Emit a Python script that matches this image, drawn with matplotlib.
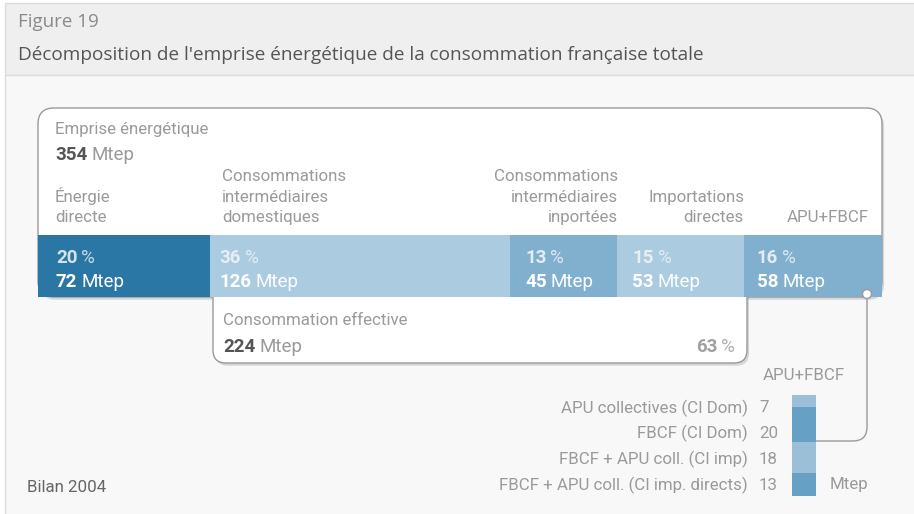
import matplotlib
matplotlib.use("Agg")
import matplotlib.pyplot as plt
import matplotlib.patheffects as pe
from matplotlib.patches import FancyBboxPatch, Rectangle, Circle, PathPatch
from matplotlib.path import Path
import numpy as np

plt.rcParams['font.family'] = ['Roboto', 'DejaVu Sans']

# ---- data ----
categories = ["Énergie\ndirecte", "Consommations\nintermédiaires\ndomestiques",
              "Consommations\nintermédiaires\ninportées", "Importations\ndirectes", "APU+FBCF"]
mtep = [72, 126, 45, 53, 58]
pct = [20, 36, 13, 15, 16]
total_mtep = 354
effective_mtep = 224
effective_pct = 63
apu_labels = ["APU collectives (CI Dom)", "FBCF (CI Dom)", "FBCF + APU coll. (CI imp)",
              "FBCF + APU coll. (CI imp. directs)"]
apu_values = [7, 20, 18, 13]

# ---- style / layout ----
bar_colors = ["#2a77a6", "#abcbe0", "#80b0ce", "#abcbe0", "#80b0ce"]
pct_colors = ["#d3e3ee", "#e6eff6", "#e3edf5", "#e6eff6", "#e3edf5"]
apu_colors = ["#9bbfd7", "#66a0c4", "#9bbfd7", "#66a0c4"]
label_pos = [(55, 'left'), (222, 'left'), (618, 'right'), (744, 'right'), (869, 'right')]
text_pad = [18, 10, 15, 15, 13]
GRAY = "#9a9a9a"
DARK = "#555555"
FS = 12.2

W, H = 914, 514
fig = plt.figure(figsize=(W / 100, H / 100), dpi=100)


def px_axes(x0, y0, x1, y1, z):
    a = fig.add_axes([x0 / W, 1 - y1 / H, (x1 - x0) / W, (y1 - y0) / H], zorder=z)
    a.axis('off')
    return a


def two_part(ax, x, y, first, second, c1, c2, size, ha='left', gap=4, **kw):
    # bold number followed by a regular unit
    if ha == 'left':
        t = ax.text(x, y, first, color=c1, fontsize=size, fontweight='bold', va='baseline', ha='left', **kw)
        ax.annotate(second, xy=(1, 0), xycoords=t, xytext=(gap, 0), textcoords='offset pixels',
                    color=c2, fontsize=size, va='bottom', ha='left')
    else:
        t = ax.text(x, y, second, color=c2, fontsize=size, va='baseline', ha='right', **kw)
        ax.annotate(first, xy=(0, 0), xycoords=t, xytext=(-gap, 0), textcoords='offset pixels',
                    color=c1, fontsize=size, fontweight='bold', va='bottom', ha='right')
    return t


shadow = [pe.SimplePatchShadow(offset=(1.5, -2), shadow_rgbFace='#999999', alpha=0.35), pe.Normal()]

# background and header
bg = px_axes(0, 0, W, H, 0)
bg.set_xlim(0, W)
bg.set_ylim(H, 0)
bg.add_patch(Rectangle((5, 3), 915, 72, fc='#efefef', ec='#dcdcdc', lw=1))
bg.add_patch(Rectangle((5, 75), 915, 445, fc='#f8f8f8', ec='#dcdcdc', lw=1))
bg.text(18, 22, "Figure 19", fontsize=13.5, color="#8a8a8a", va='center', family=['Open Sans', 'DejaVu Sans'])
bg.text(18, 55, "Décomposition de l'emprise énergétique de la consommation française totale",
        fontsize=13.7, color=DARK, va='center', family=['Open Sans', 'DejaVu Sans'])

# main box and "consommation effective" box
bg.add_patch(FancyBboxPatch((38, 108), 844, 189, boxstyle="round,pad=0,rounding_size=16",
                            fc='white', ec='#9a9a9a', lw=1, path_effects=shadow))
bg.add_patch(FancyBboxPatch((213, 262), 534, 101, boxstyle="round,pad=0,rounding_size=13",
                            fc='white', ec='#9a9a9a', lw=1, path_effects=shadow))

# main stacked bar
bx = px_axes(38, 235, 882, 297, 1)
bx.set_xlim(0, sum(mtep))
bx.set_ylim(0, 1)
lefts = np.cumsum([0] + mtep[:-1])
bx.barh(0.5, mtep, left=lefts, height=1, color=bar_colors, edgecolor='none')
for i in range(len(mtep)):
    t = bx.annotate(str(pct[i]), xy=(lefts[i], 1), xycoords=('data', 'axes fraction'),
                    xytext=(text_pad[i], -28), textcoords='offset pixels',
                    color=pct_colors[i], fontsize=13.5, fontweight='bold', va='baseline')
    bx.annotate("%", xy=(1, 0), xycoords=t, xytext=(4, 0), textcoords='offset pixels',
                color=pct_colors[i], fontsize=13.5, va='bottom', alpha=0.9)
    t = bx.annotate(str(mtep[i]), xy=(lefts[i], 1), xycoords=('data', 'axes fraction'),
                    xytext=(text_pad[i], -52), textcoords='offset pixels',
                    color='white', fontsize=13.5, fontweight='bold', va='baseline')
    bx.annotate("Mtep", xy=(1, 0), xycoords=t, xytext=(4, 0), textcoords='offset pixels',
                color='white', fontsize=13.5, va='bottom')

# foreground texts and connector
fg = px_axes(0, 0, W, H, 3)
fg.set_xlim(0, W)
fg.set_ylim(H, 0)
fg.text(55, 134, "Emprise énergétique", fontsize=FS, color=GRAY, va='baseline')
two_part(fg, 55, 160, str(total_mtep), "Mtep", DARK, GRAY, 13.5)
for lab, (x, ha) in zip(categories, label_pos):
    fg.text(x, 225, lab, fontsize=FS, color=GRAY, ha=ha, va='bottom', linespacing=1.45,
            multialignment=ha)

fg.text(223, 325, "Consommation effective", fontsize=FS, color=GRAY, va='baseline')
two_part(fg, 223, 352, str(effective_mtep), "Mtep", DARK, GRAY, 13.5)
two_part(fg, 735, 352, str(effective_pct), "%", "#a0a0a0", "#b0b0b0", 13.5, ha='right')

fg.text(27, 487, "Bilan 2004", fontsize=FS, color="#666666", va='center')

# APU+FBCF breakdown
fg.text(763, 375, "APU+FBCF", fontsize=FS, color=GRAY, va='center')
for i, (lab, v) in enumerate(zip(apu_labels, apu_values)):
    y = 408 + i * 25.7
    fg.text(748, y, lab, fontsize=FS, color=GRAY, ha='right', va='center')
    fg.text(759, y, str(v), fontsize=FS, color=GRAY, ha='left', va='center')
fg.text(830, 485, "Mtep", fontsize=FS, color=GRAY, va='center')

sx = px_axes(792, 395, 816, 496, 1)
sx.set_xlim(-0.5, 0.5)
sx.set_ylim(sum(apu_values), 0)
bars = sx.bar(0, apu_values, bottom=np.cumsum([0] + apu_values[:-1]), width=1,
              color=apu_colors, edgecolor='none')
for b in bars:
    b.set_path_effects([pe.SimplePatchShadow(offset=(2.5, -1.5), shadow_rgbFace='#888888', alpha=0.3),
                        pe.Normal()])

verts = [(867, 294), (867, 427), (867, 441), (853, 441), (816, 441)]
codes = [Path.MOVETO, Path.LINETO, Path.CURVE3, Path.CURVE3, Path.LINETO]
fg.add_patch(PathPatch(Path(verts, codes), fc='none', ec='#9a9a9a', lw=1))
fg.add_patch(Circle((867, 294), 4.5, fc='white', ec='#9a9a9a', lw=1))

fig.savefig("out.png", dpi=100)
